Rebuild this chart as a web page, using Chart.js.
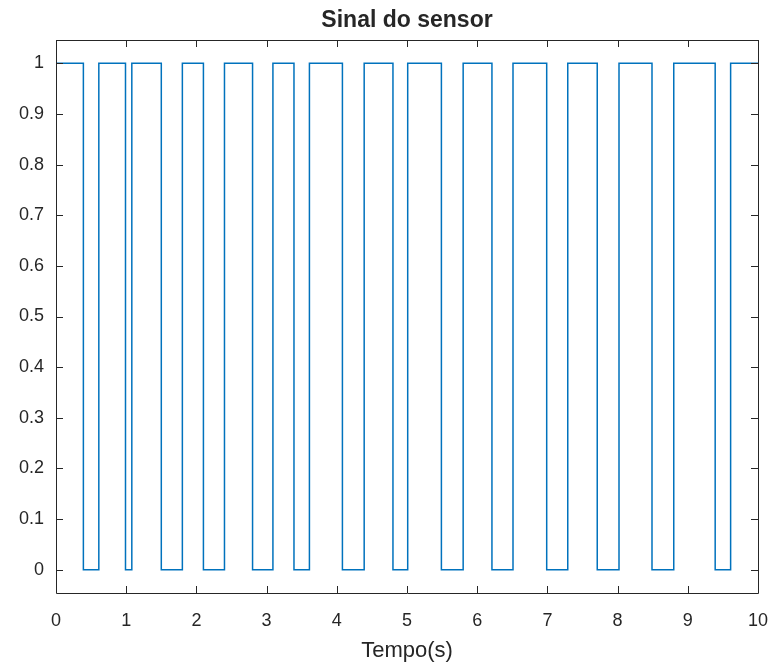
<!DOCTYPE html>
<html>
<head>
<meta charset="utf-8">
<title>Sinal do sensor</title>
<script src="https://cdn.jsdelivr.net/npm/chart.js@4/dist/chart.umd.min.js"></script>
<style>
  html, body { margin: 0; padding: 0; background: #fff; }
  canvas { display: block; }
</style>
</head>
<body>
<canvas id="sensorChart" width="774" height="666"></canvas>
<script>
// instants (s) where the sensor output drops to 0 and comes back to 1
const fallTimes = [0.39, 0.99, 1.50, 2.10, 2.80, 3.39, 4.08, 4.80, 5.49, 6.21, 6.99, 7.71, 8.49, 9.39];
const riseTimes = [0.61, 1.08, 1.80, 2.40, 3.09, 3.61, 4.39, 5.01, 5.80, 6.51, 7.29, 8.02, 8.80, 9.61];
const tStart = 0;
const tEnd = 10;
const xTicks = [0, 1, 2, 3, 4, 5, 6, 7, 8, 9, 10];
const yTicks = [0, 0.1, 0.2, 0.3, 0.4, 0.5, 0.6, 0.7, 0.8, 0.9, 1];

const chartTitle = 'Sinal do sensor';
const axisColor = '#262626';
const lineBlue = '#0072BD';
const fontFamily = '"Liberation Sans", Arial, Helvetica, sans-serif';

// square wave: high, drop at each fall, back up at each rise
const signal = [{ x: tStart, y: 1 }];
fallTimes.forEach((tf, i) => {
  const tr = riseTimes[i];
  signal.push({ x: tf, y: 1 }, { x: tf, y: 0 }, { x: tr, y: 0 }, { x: tr, y: 1 });
});
signal.push({ x: tEnd, y: 1 });

// box around the plot with ticks pointing inwards on all four sides,
// plus the title centred over the plot area
const boxAxes = {
  id: 'boxAxes',
  afterDraw(chart) {
    const { ctx, chartArea: a, scales } = chart;
    const len = 7;
    ctx.save();
    ctx.strokeStyle = axisColor;
    ctx.lineWidth = 1;
    ctx.beginPath();
    ctx.rect(Math.round(a.left) + 0.5, Math.round(a.top) + 0.5,
             Math.round(a.right - a.left), Math.round(a.bottom - a.top));
    scales.x.ticks.forEach(t => {
      const px = Math.round(scales.x.getPixelForValue(t.value)) + 0.5;
      ctx.moveTo(px, a.bottom); ctx.lineTo(px, a.bottom - len);
      ctx.moveTo(px, a.top); ctx.lineTo(px, a.top + len);
    });
    scales.y.ticks.forEach(t => {
      const py = Math.round(scales.y.getPixelForValue(t.value)) + 0.5;
      ctx.moveTo(a.left, py); ctx.lineTo(a.left + len, py);
      ctx.moveTo(a.right, py); ctx.lineTo(a.right - len, py);
    });
    ctx.stroke();

    ctx.fillStyle = axisColor;
    ctx.font = 'bold 23px ' + fontFamily;
    ctx.textAlign = 'center';
    ctx.textBaseline = 'alphabetic';
    ctx.fillText(chartTitle, (a.left + a.right) / 2, 27);
    ctx.restore();
  }
};

new Chart(document.getElementById('sensorChart'), {
  type: 'line',
  data: {
    datasets: [{
      data: signal,
      borderColor: lineBlue,
      borderWidth: 1.5,
      pointRadius: 0,
      tension: 0,
      fill: false
    }]
  },
  options: {
    responsive: false,
    animation: false,
    devicePixelRatio: 1,
    layout: { padding: { left: 0, right: 16, top: 40, bottom: 0 } },
    plugins: {
      legend: { display: false },
      tooltip: { enabled: false },
      title: { display: false }
    },
    scales: {
      x: {
        type: 'linear',
        min: tStart,
        max: tEnd,
        afterBuildTicks: s => { s.ticks = xTicks.map(v => ({ value: v })); },
        afterFit: s => { s.height = 73; s.paddingLeft = 0; s.paddingRight = 0; },
        grid: { display: false, drawTicks: false },
        border: { display: false },
        ticks: {
          color: axisColor,
          font: { family: fontFamily, size: 18 },
          padding: 17,
          maxRotation: 0,
          callback: v => String(v)
        },
        title: {
          display: true,
          text: 'Tempo(s)',
          color: axisColor,
          font: { family: fontFamily, size: 22 },
          padding: { top: 0, bottom: 2 }
        }
      },
      y: {
        min: -0.046,
        max: 1.046,
        afterBuildTicks: s => { s.ticks = yTicks.map(v => ({ value: v })); },
        afterFit: s => { s.width = 56; },
        grid: { display: false, drawTicks: false },
        border: { display: false },
        ticks: {
          color: axisColor,
          font: { family: fontFamily, size: 18 },
          padding: 12,
          callback: v => String(v)
        }
      }
    }
  },
  plugins: [boxAxes]
});
</script>
</body>
</html>
